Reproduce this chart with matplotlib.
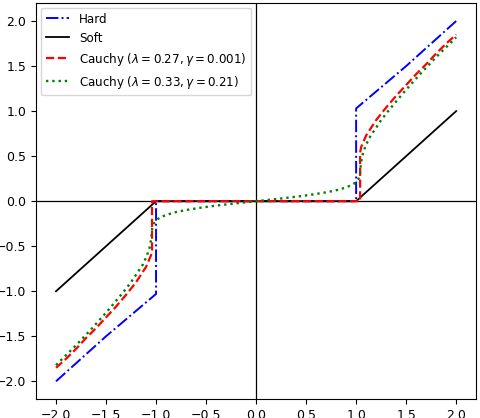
import matplotlib
matplotlib.use("Agg")
import matplotlib.pyplot as plt

# Hard thresholding (knots)
hard_x = [-2.0, -1.5, -1.0, -1.0, 1.0, 1.0, 1.5, 2.0]
hard_y = [-2.0, -1.5, -1.03, 0.0, 0.0, 1.03, 1.5, 2.0]

# Soft thresholding
soft_x = [-2.0, -1.0, 1.0, 2.0]
soft_y = [-1.0, 0.0, 0.0, 1.0]

# Cauchy (lambda=0.27, gamma=0.001)
c1_x = [-2.0, -1.9, -1.8, -1.7, -1.6, -1.5, -1.4, -1.3, -1.2, -1.1, -1.05, -1.04, -1.04,
        1.04, 1.04, 1.05, 1.1, 1.2, 1.3, 1.4, 1.5, 1.6, 1.7, 1.8, 1.9, 2.0]
c1_y = [-1.85, -1.75, -1.64, -1.52, -1.41, -1.29, -1.17, -1.04, -0.90, -0.73, -0.60, -0.54, 0.0,
        0.0, 0.54, 0.60, 0.73, 0.90, 1.04, 1.17, 1.29, 1.41, 1.52, 1.64, 1.75, 1.85]

# Cauchy (lambda=0.33, gamma=0.21)
c2_x = [-2.0, -1.80, -1.63, -1.47, -1.32, -1.25, -1.19, -1.13, -1.09, -1.06, -1.047, -1.038,
        -1.024, -0.985, -0.956, -0.893, -0.797, -0.71, -0.541, -0.404, -0.25, -0.168, -0.085, 0.0,
        0.085, 0.168, 0.25, 0.404, 0.541, 0.71, 0.797, 0.893, 0.956, 0.985, 1.024, 1.038,
        1.047, 1.06, 1.09, 1.13, 1.19, 1.25, 1.32, 1.47, 1.63, 1.80, 2.0]
c2_y = [-1.82, -1.6, -1.4, -1.2, -1.0, -0.9, -0.8, -0.7, -0.6, -0.5, -0.4, -0.3,
        -0.25, -0.2, -0.18, -0.15, -0.12, -0.1, -0.07, -0.05, -0.03, -0.02, -0.01, 0.0,
        0.01, 0.02, 0.03, 0.05, 0.07, 0.1, 0.12, 0.15, 0.18, 0.2, 0.25, 0.3,
        0.4, 0.5, 0.6, 0.7, 0.8, 0.9, 1.0, 1.2, 1.4, 1.6, 1.82]

labels = ["Hard", "Soft",
          r"Cauchy ($\lambda = 0.27, \gamma = 0.001$)",
          r"Cauchy ($\lambda = 0.33, \gamma = 0.21$)"]

ticks = [-2.0, -1.5, -1.0, -0.5, 0.0, 0.5, 1.0, 1.5, 2.0]

fig = plt.figure(figsize=(4.8, 4.18), dpi=100)
ax = fig.add_axes([0.075, 0.0447, 0.917, 0.948])

ax.axhline(0, color="black", lw=0.9, zorder=1)
ax.axvline(0, color="black", lw=0.9, zorder=1)

ax.plot(hard_x, hard_y, color="blue", ls="-.", lw=1.4, label=labels[0])
ax.plot(soft_x, soft_y, color="black", ls="-", lw=1.3, label=labels[1])
ax.plot(c1_x, c1_y, color="red", ls="--", lw=1.6, label=labels[2])
ax.plot(c2_x, c2_y, color="green", ls=":", lw=1.7, label=labels[3])

ax.set_xlim(-2.2, 2.2)
ax.set_ylim(-2.2, 2.2)
ax.set_xticks(ticks)
ax.set_yticks(ticks)
ax.tick_params(labelsize=9)
ax.legend(loc="upper left", fontsize=8.6, borderaxespad=0.4)

fig.savefig("out.png", dpi=100)
